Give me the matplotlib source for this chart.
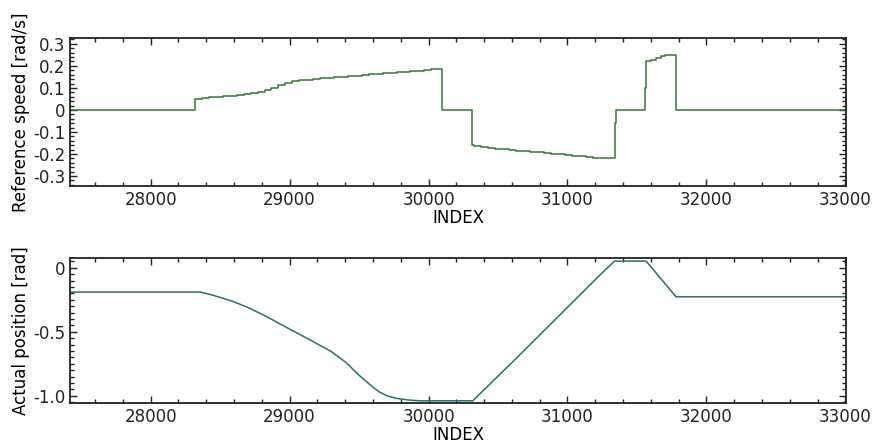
import numpy as np
import matplotlib
matplotlib.use('Agg')
import matplotlib.pyplot as plt
from matplotlib.ticker import MultipleLocator, FixedLocator, FuncFormatter

# reference speed (step signal, drawn with steps-post)
speed_idx = [27420, 28320, 28370, 28420, 28470, 28520, 28570, 28620, 28670, 28720,
             28770, 28820, 28870, 28920, 28970, 29020, 29070, 29120, 29170, 29220,
             29270, 29320, 29370, 29420, 29470, 29520, 29570, 29620, 29670, 29720,
             29770, 29820, 29870, 29920, 29970, 30020, 30060, 30100,
             30310, 30330, 30380, 30430, 30480, 30530, 30580, 30630, 30680, 30730,
             30780, 30830, 30880, 30930, 30980, 31030, 31080, 31130, 31180, 31230,
             31340, 31350, 31555, 31565, 31600, 31640, 31670, 31700, 31780, 33000]
speed_val = [0, 0.050, 0.054, 0.057, 0.059, 0.062, 0.065, 0.068, 0.072, 0.077,
             0.083, 0.090, 0.100, 0.113, 0.124, 0.130, 0.134, 0.138, 0.141, 0.144,
             0.146, 0.149, 0.151, 0.154, 0.156, 0.159, 0.161, 0.164, 0.166, 0.169,
             0.171, 0.174, 0.176, 0.179, 0.181, 0.184, 0.187, 0,
             -0.160, -0.165, -0.168, -0.172, -0.175, -0.178, -0.181, -0.184, -0.187, -0.190,
             -0.193, -0.196, -0.199, -0.202, -0.205, -0.208, -0.211, -0.214, -0.218, -0.220,
             -0.06, 0, 0.1, 0.22, 0.225, 0.235, 0.245, 0.25, 0, 0]

# actual position
pos_idx = [27420, 28360, 28450, 28590, 28700, 28832, 28950, 29072, 29166, 29300,
           29406, 29500, 29597, 29645, 29700, 29765, 29850, 29937, 30318, 30606,
           30990, 31230, 31338, 31566, 31781, 33000]
pos_val = [-0.19, -0.19, -0.215, -0.262, -0.31, -0.38, -0.45, -0.52, -0.575, -0.655,
           -0.74, -0.84, -0.93, -0.97, -1.0, -1.02, -1.033, -1.04, -1.04, -0.735,
           -0.32, -0.06, 0.052, 0.052, -0.227, -0.227]

x_ticks = [28000, 29000, 30000, 31000, 32000, 33000]

plt.rcParams['font.family'] = 'DejaVu Sans'
plt.rcParams['font.size'] = 12

fig = plt.figure(figsize=(8.77, 4.46), dpi=100)
ax1 = fig.add_axes([0.0798, 0.583, 0.885, 0.332])
ax2 = fig.add_axes([0.0798, 0.097, 0.885, 0.325])

ax1.plot(speed_idx, speed_val, drawstyle='steps-post', color='#357535', lw=1.1)
ax2.plot(pos_idx, pos_val, color='#2a6d6d', lw=1.1)

def fmt(v, pos):
    if abs(v) < 1e-9:
        return '0'
    return f'{v:g}'

for ax in (ax1, ax2):
    ax.set_xlim(27420, 33005)
    ax.xaxis.set_major_locator(FixedLocator(x_ticks))
    ax.xaxis.set_minor_locator(MultipleLocator(200))
    ax.tick_params(which='both', direction='in', top=True, right=True,
                   width=1, colors='#222222', labelcolor='#222222')
    ax.tick_params(which='major', length=5)
    ax.tick_params(which='minor', length=3)
    for s in ax.spines.values():
        s.set_linewidth(1.3)
        s.set_color('#222222')
    ax.set_xlabel('INDEX', labelpad=0)
    ax.yaxis.set_major_formatter(FuncFormatter(fmt))

ax1.set_ylim(-0.345, 0.327)
ax1.yaxis.set_major_locator(FixedLocator([-0.3, -0.2, -0.1, 0, 0.1, 0.2, 0.3]))
ax1.yaxis.set_minor_locator(MultipleLocator(0.02))
ax1.set_ylabel('Reference speed [rad/s]', labelpad=2)

ax2.set_ylim(-1.055, 0.078)
ax2.yaxis.set_major_locator(FixedLocator([-1.0, -0.5, 0]))
ax2.yaxis.set_minor_locator(MultipleLocator(0.05))
ax2.set_ylabel('Actual position [rad]', labelpad=2)
ax2.set_yticklabels(['-1.0', '-0.5', '0'])

fig.savefig('out.png', dpi=100)
